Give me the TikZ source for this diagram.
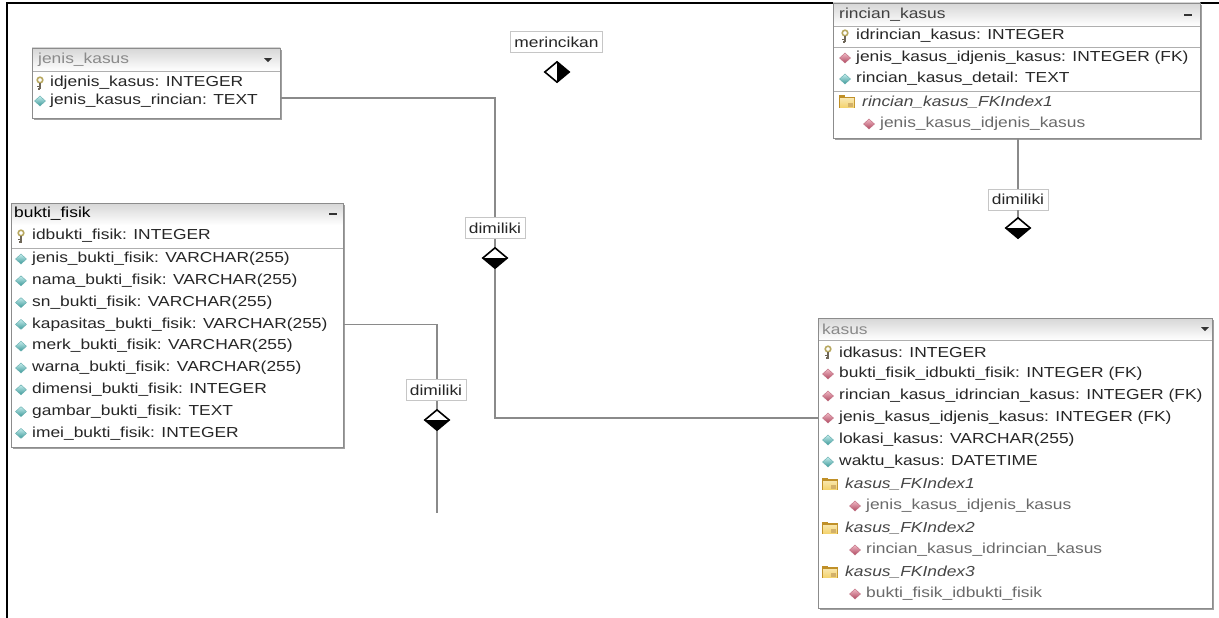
\documentclass[tikz,border=0pt]{standalone}
\usepackage{fontspec}
\usetikzlibrary{shapes.geometric}
\newfontfamily\rf{Liberation Sans}[FakeStretch=1.2]
\definecolor{rowc}{HTML}{262626}
\definecolor{subc}{HTML}{6A6A6A}
\definecolor{titc}{HTML}{8A8A8A}
\definecolor{bordc}{HTML}{8C8C8C}
\definecolor{shadc}{HTML}{A0A0A0}
\definecolor{connc}{HTML}{8A8A8A}
\definecolor{fkA}{HTML}{F0B8C4}
\definecolor{fkB}{HTML}{B04A62}
\definecolor{atA}{HTML}{C4ECEC}
\definecolor{atB}{HTML}{3E9A9A}
\definecolor{keyA}{HTML}{B8A860}
\definecolor{keyB}{HTML}{6E6658}
\definecolor{foldA}{HTML}{F4D470}
\definecolor{foldB}{HTML}{C09028}
\tikzset{
  rowtext/.style={anchor=west, inner sep=0pt, font=\rf\fontsize{14.5}{16}\selectfont, text=rowc},
  titletext/.style={rowtext, text=black},
  fainttitle/.style={rowtext, text=titc},
  idxtext/.style={rowtext, font=\rf\itshape\fontsize{14.5}{16}\selectfont, text=rowc!85},
  subtext/.style={rowtext, text=subc},
  tablebox/.style={anchor=north west, inner sep=0pt, fill=white},
  border/.style={draw=bordc, line width=0.9pt},
  sepline/.style={draw=bordc!70, line width=0.8pt},
  conn/.style={draw=connc, line width=1.3pt},
  relabel/.style={draw=gray!45, fill=white, line width=0.7pt, font=\rf\fontsize{14.5}{16}\selectfont, text=black!85, inner xsep=4pt, inner ysep=2pt, minimum height=21pt},
  reldia/.style={diamond, draw=black, line width=1.6pt, fill=white, inner sep=0pt, minimum width=25pt, minimum height=21pt},
  lowerhalf/.style={reldia, path picture={\fill[black] (path picture bounding box.west) -- (path picture bounding box.east) -- (path picture bounding box.south) -- cycle;}},
  righthalf/.style={reldia, path picture={\fill[black] (path picture bounding box.north) -- (path picture bounding box.south) -- (path picture bounding box.east) -- cycle;}},
  fkicon/.pic={\shade[top color=fkA, bottom color=fkB, draw=fkB!80, line width=0.4pt] (0,5) -- (5.5,0) -- (0,-5) -- (-5.5,0) -- cycle;},
  aticon/.pic={\shade[top color=atA, bottom color=atB, draw=atB!80, line width=0.4pt] (0,5) -- (5.5,0) -- (0,-5) -- (-5.5,0) -- cycle;},
  keyicon/.pic={\draw[keyA, line width=1.6pt] (0,3) circle (2.8);
                \draw[keyB, line width=1.7pt] (0,0) -- (0,-6.5);
                \draw[keyB, line width=1.4pt] (0,-3.6) -- (-3,-3.6) (0,-6) -- (-2.4,-6);},
  foldicon/.pic={\fill[foldB] (-8,-6) rectangle (8,5);
                 \shade[top color=foldA!60, bottom color=foldA] (-7,-5) rectangle (7,3);
                 \fill[foldB] (-8,5) rectangle (-2,6.5);
                 \fill[foldB!70] (1,-4.5) rectangle (6,-1);},
  dropdown/.pic={\fill[black!80] (-4,1.8) -- (4,1.8) -- (0,-2.2) -- cycle;},
  minus/.pic={\fill[black!80] (-4,-1) rectangle (4,1);}
}
\begin{document}
\begin{tikzpicture}[x=1pt,y=1pt]
\useasboundingbox (0,0) rectangle (1219,-618);
\fill[white] (0,0) rectangle (1219,-618);
% frame
\draw[line width=2.4pt, black] (7,-618) -- (7,-3) -- (1219,-3);

% ================= jenis_kasus =================
\fill[shadc] (34,-50) rectangle (282,-120);
\node[tablebox, minimum width=248pt, minimum height=70pt] (jk) at (32,-48) {};
\shade[top color=gray!32, bottom color=white] (jk.north west) rectangle ([yshift=-23]jk.north east);
\draw[sepline] ([yshift=-23]jk.north west) -- ([yshift=-23]jk.north east);
\draw[border] (jk.south west) rectangle (jk.north east);
\node[fainttitle] (jkt) at (38,-60) {jenis\_kasus};
\pic at (268,-60) {dropdown};
\pic at (40,-83) {keyicon};
\node[rowtext] (jk1) at (50,-83) {idjenis\_kasus: INTEGER};
\pic at (40,-101) {aticon};
\node[rowtext] (jk2) at (50,-101) {jenis\_kasus\_rincian: TEXT};

% ================= rincian_kasus =================
\fill[shadc] (835,-5) rectangle (1202,-140);
\node[tablebox, minimum width=367pt, minimum height=135pt] (rk) at (833,-3) {};
\shade[top color=gray!32, bottom color=white] (rk.north west) rectangle ([yshift=-23]rk.north east);
\draw[sepline] ([yshift=-23]rk.north west) -- ([yshift=-23]rk.north east);
\draw[sepline] (833,-47) -- (1200,-47);
\draw[sepline] (833,-91) -- (1200,-91);
\draw[border] (rk.south west) rectangle (rk.north east);
\node[titletext, text=black!75] (rkt) at (839,-15) {rincian\_kasus};
\pic at (1188,-15) {minus};
\pic at (845,-36) {keyicon};
\node[rowtext] (rk1) at (856,-36) {idrincian\_kasus: INTEGER};
\pic at (845,-58) {fkicon};
\node[rowtext] (rk2) at (856,-58) {jenis\_kasus\_idjenis\_kasus: INTEGER (FK)};
\pic at (845,-79) {aticon};
\node[rowtext] (rk3) at (856,-79) {rincian\_kasus\_detail: TEXT};
\pic at (847,-102) {foldicon};
\node[idxtext] (rk4) at (862,-102) {rincian\_kasus\_FKIndex1};
\pic at (869,-124) {fkicon};
\node[subtext] (rk5) at (880,-124) {jenis\_kasus\_idjenis\_kasus};

% ================= bukti_fisik =================
\fill[shadc] (13,-205) rectangle (345,-449);
\node[tablebox, minimum width=332pt, minimum height=244pt] (bf) at (11,-203) {};
\shade[top color=gray!32, bottom color=white] (bf.north west) rectangle ([yshift=-22]bf.north east);
\draw[sepline] (11,-248) -- (343,-248);
\draw[border] (bf.south west) rectangle (bf.north east);
\node[titletext] (bft) at (14,-214) {bukti\_fisik};
\pic at (333,-214) {minus};
\pic at (21,-236) {keyicon};
\node[rowtext] (bf0) at (32,-236) {idbukti\_fisik: INTEGER};
\pic at (21,-259) {aticon};
\node[rowtext] (bf1) at (32,-259) {jenis\_bukti\_fisik: VARCHAR(255)};
\pic at (21,-280.8) {aticon};
\node[rowtext] (bf2) at (32,-280.8) {nama\_bukti\_fisik: VARCHAR(255)};
\pic at (21,-302.6) {aticon};
\node[rowtext] (bf3) at (32,-302.6) {sn\_bukti\_fisik: VARCHAR(255)};
\pic at (21,-324.4) {aticon};
\node[rowtext] (bf4) at (32,-324.4) {kapasitas\_bukti\_fisik: VARCHAR(255)};
\pic at (21,-346.2) {aticon};
\node[rowtext] (bf5) at (32,-346.2) {merk\_bukti\_fisik: VARCHAR(255)};
\pic at (21,-368) {aticon};
\node[rowtext] (bf6) at (32,-368) {warna\_bukti\_fisik: VARCHAR(255)};
\pic at (21,-389.8) {aticon};
\node[rowtext] (bf7) at (32,-389.8) {dimensi\_bukti\_fisik: INTEGER};
\pic at (21,-411.6) {aticon};
\node[rowtext] (bf8) at (32,-411.6) {gambar\_bukti\_fisik: TEXT};
\pic at (21,-433.4) {aticon};
\node[rowtext] (bf9) at (32,-433.4) {imei\_bukti\_fisik: INTEGER};

% ================= kasus =================
\fill[shadc] (820,-320) rectangle (1214,-610);
\node[tablebox, minimum width=394pt, minimum height=290pt] (ks) at (818,-318) {};
\shade[top color=gray!32, bottom color=white] (ks.north west) rectangle ([yshift=-22]ks.north east);
\draw[sepline] ([yshift=-22]ks.north west) -- ([yshift=-22]ks.north east);
\draw[border] (ks.south west) rectangle (ks.north east);
\node[fainttitle] (kst) at (822,-329) {kasus};
\pic at (1205,-329) {dropdown};
\pic at (828,-352) {keyicon};
\node[rowtext] (ks1) at (839,-352) {idkasus: INTEGER};
\pic at (828,-374) {fkicon};
\node[rowtext] (ks2) at (839,-374) {bukti\_fisik\_idbukti\_fisik: INTEGER (FK)};
\pic at (828,-396) {fkicon};
\node[rowtext] (ks3) at (839,-396) {rincian\_kasus\_idrincian\_kasus: INTEGER (FK)};
\pic at (828,-418) {fkicon};
\node[rowtext] (ks4) at (839,-418) {jenis\_kasus\_idjenis\_kasus: INTEGER (FK)};
\pic at (828,-440) {aticon};
\node[rowtext] (ks5) at (839,-440) {lokasi\_kasus: VARCHAR(255)};
\pic at (828,-462) {aticon};
\node[rowtext] (ks6) at (839,-462) {waktu\_kasus: DATETIME};
\pic at (830,-484) {foldicon};
\node[idxtext] (ks7) at (845,-484) {kasus\_FKIndex1};
\pic at (855,-506) {fkicon};
\node[subtext] (ks8) at (866,-506) {jenis\_kasus\_idjenis\_kasus};
\pic at (830,-528) {foldicon};
\node[idxtext] (ks9) at (845,-528) {kasus\_FKIndex2};
\pic at (855,-550) {fkicon};
\node[subtext] (ks10) at (866,-550) {rincian\_kasus\_idrincian\_kasus};
\pic at (830,-572) {foldicon};
\node[idxtext] (ks11) at (845,-572) {kasus\_FKIndex3};
\pic at (855,-594) {fkicon};
\node[subtext] (ks12) at (866,-594) {bukti\_fisik\_idbukti\_fisik};

% ================= relationships =================
\node[relabel] (l0) at (556.5,-42) {merincikan};
\node[righthalf] (d0) at (557,-72) {};

\node[relabel] (l1) at (495,-228) {dimiliki};
\node[lowerhalf] (d1) at (495,-258) {};

\node[relabel] (l2) at (436,-390) {dimiliki};
\node[lowerhalf] (d2) at (437,-420) {};
\coordinate (e2) at (437,-513);

\node[relabel] (l3) at (1018,-199.5) {dimiliki};
\node[lowerhalf] (d3) at (1018,-228) {};

% connectors
\draw[conn] ([yshift=3pt]jk.east |- jk2) -| (l1.north);
\draw[conn] (l1.south) -- (d1.north);
\draw[conn] (d1.south) |- (ks.west |- ks4);

\draw[conn] (bf.east |- bf4) -| (d2 |- l2.north);
\draw[conn] (d2 |- l2.south) -- (d2.north);
\draw[conn] (d2.south) -- (e2);

\draw[conn] (l3 |- rk.south) -- (l3.north);
\draw[conn] (l3.south) -- (d3.north);
\end{tikzpicture}
\end{document}
